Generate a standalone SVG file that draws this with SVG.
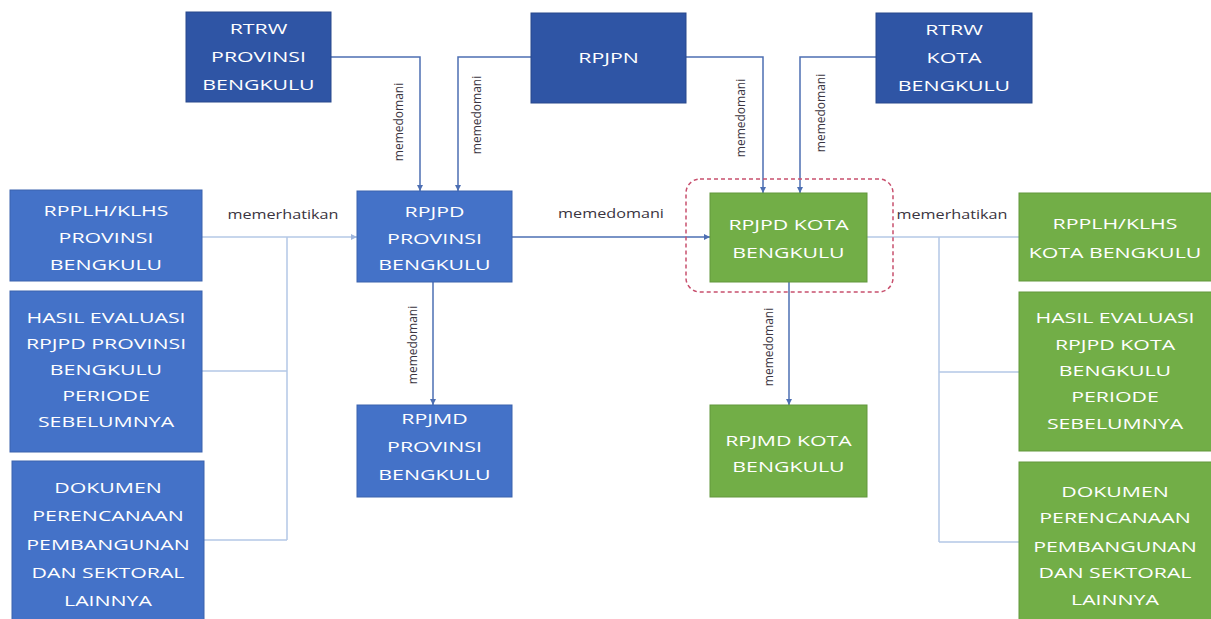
<svg xmlns="http://www.w3.org/2000/svg" width="1211" height="619" viewBox="0 0 1211 619">
<defs>
<style>
.dk{fill:#2f55a5;stroke:#28488c;stroke-width:1}
.bl{fill:#4472c8;stroke:#3a62ad;stroke-width:1}
.gr{fill:#72ae47;stroke:#62973c;stroke-width:1}
.t{font-family:"Open Sans","Noto Sans",sans-serif;font-size:15px;fill:#ffffff;text-anchor:middle}
.lb{font-family:"Open Sans","Noto Sans",sans-serif;font-size:12px;fill:#3a3440;text-anchor:middle}
.c{fill:none;stroke:#4d6fb3;stroke-width:1.5}
.cl{fill:none;stroke:#b4c8e6;stroke-width:1.5}
.dash{fill:none;stroke:#c8506e;stroke-width:1.5;stroke-dasharray:4 3}
</style>
<marker id="ar" viewBox="0 0 10 10" refX="10" refY="5" markerWidth="6" markerHeight="6" orient="auto" markerUnits="userSpaceOnUse">
<path d="M0,0 L10,5 L0,10 z" fill="#4d6fb3"/>
</marker>
<marker id="arl" viewBox="0 0 10 10" refX="10" refY="5" markerWidth="6" markerHeight="6" orient="auto" markerUnits="userSpaceOnUse">
<path d="M0,0 L10,5 L0,10 z" fill="#9fb6dc"/>
</marker>
</defs>
<rect width="1211" height="619" fill="#ffffff"/>

<g id="connectors">
<path class="c" d="M331,57 H420 V191" marker-end="url(#ar)"/>
<path class="c" d="M531,57 H458 V191" marker-end="url(#ar)"/>
<path class="c" d="M686,57 H763 V193" marker-end="url(#ar)"/>
<path class="c" d="M876,57 H800 V193" marker-end="url(#ar)"/>
<path class="cl" d="M202,237 H357" marker-end="url(#arl)"/>
<path class="cl" d="M287,237 V540 M202,371 H287 M204,540 H287"/>
<path class="c" d="M512,237 H710" marker-end="url(#ar)"/>
<path class="c" d="M433,282 V405" marker-end="url(#ar)"/>
<path class="c" d="M789,282 V405" marker-end="url(#ar)"/>
<path class="cl" d="M867,237 H1019"/>
<path class="cl" d="M939,237 V542 M939,372 H1019 M939,542 H1019"/>
<rect class="dash" x="686" y="179" width="207" height="113" rx="14"/>
<text class="lb" transform="translate(403,122) rotate(-90)">memedomani</text>
<text class="lb" transform="translate(481,115) rotate(-90)">memedomani</text>
<text class="lb" transform="translate(745,118) rotate(-90)">memedomani</text>
<text class="lb" transform="translate(825,113) rotate(-90)">memedomani</text>
<text class="lb" transform="translate(417,345) rotate(-90)">memedomani</text>
<text class="lb" transform="translate(773,347) rotate(-90)">memedomani</text>
<text class="lb" transform="scale(1.35 1)" x="209.6" y="219">memerhatikan</text>
<text class="lb" transform="scale(1.35 1)" x="452.6" y="218">memedomani</text>
<text class="lb" transform="scale(1.35 1)" x="705.2" y="219">memerhatikan</text>
</g>

<g id="rtrw-provinsi">
<rect class="dk" x="186" y="12" width="145" height="90"/>
<text class="t" transform="scale(1.42 1)"><tspan x="182.04" y="34">RTRW</tspan><tspan x="182.04" y="62">PROVINSI</tspan><tspan x="182.04" y="90">BENGKULU</tspan></text>
</g>
<g id="rpjpn">
<rect class="dk" x="531" y="13" width="155" height="90"/>
<text class="t" transform="scale(1.42 1)"><tspan x="428.52" y="63">RPJPN</tspan></text>
</g>
<g id="rtrw-kota">
<rect class="dk" x="876" y="13" width="156" height="90"/>
<text class="t" transform="scale(1.42 1)"><tspan x="671.83" y="35">RTRW</tspan><tspan x="671.83" y="63">KOTA</tspan><tspan x="671.83" y="91">BENGKULU</tspan></text>
</g>

<g id="rpplh-provinsi">
<rect class="bl" x="10" y="190" width="192" height="91"/>
<text class="t" transform="scale(1.42 1)"><tspan x="74.65" y="216">RPPLH/KLHS</tspan><tspan x="74.65" y="243">PROVINSI</tspan><tspan x="74.65" y="270">BENGKULU</tspan></text>
</g>
<g id="hasil-provinsi">
<rect class="bl" x="10" y="291" width="192" height="161"/>
<text class="t" transform="scale(1.42 1)"><tspan x="74.65" y="323">HASIL EVALUASI</tspan><tspan x="74.65" y="349">RPJPD PROVINSI</tspan><tspan x="74.65" y="375">BENGKULU</tspan><tspan x="74.65" y="401">PERIODE</tspan><tspan x="74.65" y="427">SEBELUMNYA</tspan></text>
</g>
<g id="dokumen-provinsi">
<rect class="bl" x="12" y="461" width="192" height="160"/>
<text class="t" transform="scale(1.42 1)"><tspan x="76.06" y="493">DOKUMEN</tspan><tspan x="76.06" y="521">PERENCANAAN</tspan><tspan x="76.06" y="550">PEMBANGUNAN</tspan><tspan x="76.06" y="578">DAN SEKTORAL</tspan><tspan x="76.06" y="606">LAINNYA</tspan></text>
</g>
<g id="rpjpd-provinsi">
<rect class="bl" x="357" y="191" width="155" height="91"/>
<text class="t" transform="scale(1.42 1)"><tspan x="305.99" y="217">RPJPD</tspan><tspan x="305.99" y="244">PROVINSI</tspan><tspan x="305.99" y="270">BENGKULU</tspan></text>
</g>
<g id="rpjmd-provinsi">
<rect class="bl" x="357" y="405" width="155" height="92"/>
<text class="t" transform="scale(1.42 1)"><tspan x="305.99" y="424">RPJMD</tspan><tspan x="305.99" y="452">PROVINSI</tspan><tspan x="305.99" y="480">BENGKULU</tspan></text>
</g>

<g id="rpjpd-kota">
<rect class="gr" x="710" y="193" width="157" height="89"/>
<text class="t" transform="scale(1.42 1)"><tspan x="555.28" y="230">RPJPD KOTA</tspan><tspan x="555.28" y="258">BENGKULU</tspan></text>
</g>
<g id="rpjmd-kota">
<rect class="gr" x="710" y="405" width="157" height="92"/>
<text class="t" transform="scale(1.42 1)"><tspan x="555.28" y="446">RPJMD KOTA</tspan><tspan x="555.28" y="472">BENGKULU</tspan></text>
</g>
<g id="rpplh-kota">
<rect class="gr" x="1019" y="193" width="193" height="88"/>
<text class="t" transform="scale(1.42 1)"><tspan x="785.21" y="229">RPPLH/KLHS</tspan><tspan x="785.21" y="258">KOTA BENGKULU</tspan></text>
</g>
<g id="hasil-kota">
<rect class="gr" x="1019" y="292" width="193" height="159"/>
<text class="t" transform="scale(1.42 1)"><tspan x="785.21" y="323">HASIL EVALUASI</tspan><tspan x="785.21" y="350">RPJPD KOTA</tspan><tspan x="785.21" y="376">BENGKULU</tspan><tspan x="785.21" y="402">PERIODE</tspan><tspan x="785.21" y="429">SEBELUMNYA</tspan></text>
</g>
<g id="dokumen-kota">
<rect class="gr" x="1019" y="462" width="193" height="159"/>
<text class="t" transform="scale(1.42 1)"><tspan x="785.21" y="497">DOKUMEN</tspan><tspan x="785.21" y="523">PERENCANAAN</tspan><tspan x="785.21" y="552">PEMBANGUNAN</tspan><tspan x="785.21" y="578">DAN SEKTORAL</tspan><tspan x="785.21" y="605">LAINNYA</tspan></text>
</g>
</svg>
